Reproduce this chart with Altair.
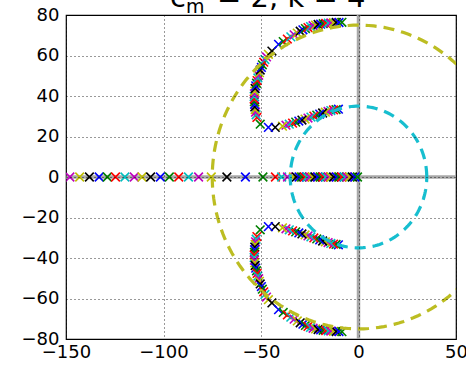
import altair as alt
import pandas as pd

# ---- data ----
# poles on the real axis (left to right)
real_axis = [-148.0, -143.0, -138.0, -133.0, -128.8, -124.6, -119.8, -115.0, -111.0, -106.6,
             -101.6, -97.0, -92.2, -87.2, -82.0, -75.5, -67.5, -58.0, -49.0, -42.6,
             -39.4, -36.4, -33.4, -31.9, -30.5, -29.1, -27.7, -26.4, -25.0, -23.6,
             -22.3, -20.9, -19.5, -18.2, -16.8, -15.4, -14.1, -12.7, -11.3, -10.0,
             -8.6, -7.2, -5.9, -4.5, -3.1, -1.8, -0.5]
real_offset = 4

# complex branch (upper half; lower half is its conjugate)
upper_re = [-10.3, -11.5, -12.8, -14.2, -15.6, -17.0, -18.4, -19.9, -21.4, -22.9,
            -24.4, -25.9, -27.4, -29.0, -30.6, -32.2, -33.8, -35.5, -37.2, -39.0,
            -42.7, -46.2, -50.4, -52.1,
            -52.5, -52.8, -53.0, -53.2, -53.3, -53.4, -53.5, -53.5, -53.4, -53.2,
            -53.0, -52.7, -52.3, -52.0, -51.6, -51.2, -50.8, -50.4, -49.8, -49.3,
            -48.6, -48.0, -47.2, -46.2,
            -44.4, -41.0, -38.6, -36.5, -34.7, -33.0, -31.4, -29.9,
            -28.5, -27.2, -25.9, -24.6, -23.3, -22.0, -20.7, -19.4, -18.1, -16.8,
            -15.5, -14.2, -12.8, -11.4, -10.0, -8.5]
upper_im = [33.5, 33.3, 33.1, 32.8, 32.4, 32.0, 31.6, 31.1, 30.6, 30.1,
            29.6, 29.1, 28.6, 28.1, 27.6, 27.1, 26.6, 26.1, 25.6, 25.1,
            24.5, 24.5, 26.1, 29.4,
            30.7, 32.0, 33.3, 34.6, 35.9, 37.2, 38.5, 39.8, 41.1, 42.4,
            43.7, 45.0, 46.3, 47.6, 48.9, 50.2, 51.5, 52.8, 54.1, 55.4,
            56.7, 58.0, 59.3, 60.6,
            62.2, 65.5, 66.9, 68.1, 69.2, 70.2, 71.1, 72.0,
            72.7, 73.3, 73.8, 74.3, 74.7, 75.0, 75.3, 75.5, 75.7, 75.9,
            76.0, 76.1, 76.2, 76.3, 76.3, 76.4]

cycle_names = ["b", "g", "r", "c", "m", "y", "k"]
cycle_colors = ["#0000ff", "#008000", "#ff0000", "#00bfbf", "#bf00bf", "#bfbf00", "#000000"]

outer_radius = 75
inner_radius = 35

x_ticks = [-150, -100, -50, 0, 50]
y_ticks = [-80, -60, -40, -20, 0, 20, 40, 60, 80]

# ---- build tables ----
rows = []
for i, v in enumerate(real_axis):
    rows.append({"re": v, "im": 0.0, "c": cycle_names[(real_offset + i) % 7], "o": len(rows)})
for i, (a, b) in enumerate(zip(upper_re, upper_im)):
    rows.append({"re": a, "im": b, "c": cycle_names[i % 7], "o": len(rows)})
    rows.append({"re": a, "im": -b, "c": cycle_names[i % 7], "o": len(rows)})
poles = pd.DataFrame(rows)

xs = alt.Scale(domain=[-150, 50], nice=False, zero=False)
ys = alt.Scale(domain=[-80, 80], nice=False, zero=False)

FONT = "DejaVu Sans"

x_axis = alt.Axis(values=x_ticks, title=None, grid=True, ticks=False, domain=False,
                  labelFont=FONT, labelFontSize=18, labelColor="black", labelPadding=4,
                  labelFlush=False, labelOverlap=False, gridColor="black", gridDash=[1, 3],
                  gridOpacity=0.8, gridWidth=1, zindex=1)
y_axis = alt.Axis(values=y_ticks, title=None, grid=True, ticks=False, domain=False,
                  labelFont=FONT, labelFontSize=18, labelColor="black", labelPadding=7,
                  labelFlush=False, labelOverlap=False, gridColor="black", gridDash=[1, 3],
                  gridOpacity=0.8, gridWidth=1, zindex=1)

zero_df = pd.DataFrame({"v": [0.0]})
vline = alt.Chart(zero_df).mark_rule(color="#a8a8a8", strokeWidth=3.5).encode(
    x=alt.X("v:Q", scale=xs, axis=x_axis))
hline = alt.Chart(zero_df).mark_rule(color="#a8a8a8", strokeWidth=3.5).encode(
    y=alt.Y("v:Q", scale=ys, axis=y_axis))

xmark = "M-1,-1L1,1M-1,1L1,-1"
markers = alt.Chart(poles).mark_point(shape=xmark, filled=False, size=75, strokeWidth=1.6,
                                      opacity=1, clip=True).encode(
    x=alt.X("re:Q", scale=xs, axis=x_axis),
    y=alt.Y("im:Q", scale=ys, axis=y_axis),
    color=alt.Color("c:N", scale=alt.Scale(domain=cycle_names, range=cycle_colors), legend=None),
    order=alt.Order("o:Q"),
)


def circle(r, color):
    return alt.Chart(alt.sequence(0, 362, 2, as_="deg")).transform_calculate(
        cx=f"{r}*cos(datum.deg*PI/180)", cy=f"{r}*sin(datum.deg*PI/180)"
    ).mark_line(color=color, strokeWidth=3.2, strokeDash=[11, 7], clip=True).encode(
        x=alt.X("cx:Q", scale=xs, axis=x_axis),
        y=alt.Y("cy:Q", scale=ys, axis=y_axis),
        order=alt.Order("deg:Q"),
    )


outer = circle(outer_radius, "#bcbd22")
inner = circle(inner_radius, "#17becf")

t_df = pd.DataFrame({"t": [0]})
title_c = alt.Chart(t_df).mark_text(align="left", baseline="alphabetic", font=FONT,
                                    fontSize=29, color="black").encode(
    x=alt.value(104), y=alt.value(-8), text=alt.value("c"))
title_m = alt.Chart(t_df).mark_text(align="left", baseline="alphabetic", font=FONT,
                                    fontSize=19, color="black").encode(
    x=alt.value(120), y=alt.value(-2), text=alt.value("m"))
title_rest = alt.Chart(t_df).mark_text(align="left", baseline="alphabetic", font=FONT,
                                       fontSize=29, color="black").encode(
    x=alt.value(151), y=alt.value(-8), text=alt.value("= 2, k = 4"))

chart = alt.layer(vline, hline, markers, outer, inner, title_c, title_m, title_rest).properties(
    width=390, height=324,
    autosize=alt.AutoSizeParams(type="none"),
    padding={"left": 66, "top": 15, "right": 10, "bottom": 30},
    background="white",
).configure_view(stroke="black", strokeWidth=1.2)

chart.save("out.html", embed_options={"renderer": "svg", "actions": False})
